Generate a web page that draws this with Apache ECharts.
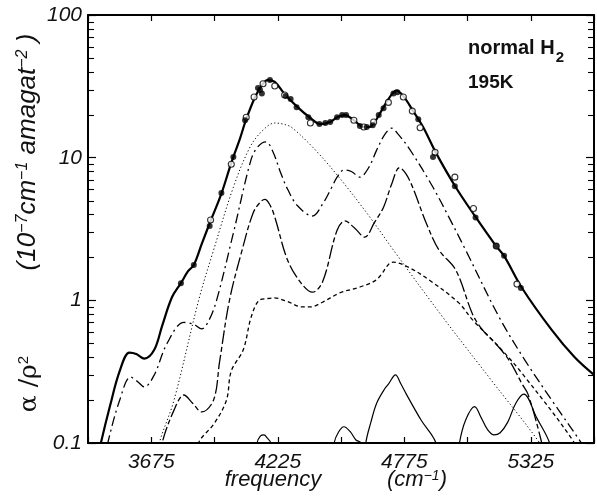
<!DOCTYPE html>
<html>
<head>
<meta charset="utf-8">
<script src="https://cdn.jsdelivr.net/npm/echarts@6/dist/echarts.min.js"></script>
<style>
  html, body { margin: 0; padding: 0; background: #fff; }
  #chart { width: 597px; height: 499px; }
</style>
</head>
<body>
<div id="chart"></div>
<script>
// frequency (cm^-1) / alpha over rho^2
const xMin = 3400, xMax = 5600, xStep = 275;
const labelledTicks = [3675, 4225, 4775, 5325];

const totalCurve = [[3440,0.075],[3456,0.1],[3495,0.18],[3538,0.32],[3580,0.43],[3610,0.42],[3645,0.39],[3688,0.45],
  [3722,0.66],[3765,1.05],[3804,1.32],[3835,1.6],[3860,1.77],[3895,2.5],[3933,3.6],[3980,5.6],[4023,9.2],[4060,13.5],
  [4088,18.6],[4126,26.5],[4155,32],[4180,35],[4212,34],[4255,27.9],[4311,22.6],[4363,19.2],[4410,17.2],[4453,17.8],
  [4483,19.2],[4517,19.9],[4556,18.3],[4599,16.4],[4625,16.4],[4646,17.7],[4685,22.6],[4715,27],[4740,29.5],[4771,27],
  [4814,21.2],[4857,16.4],[4913,10.8],[4999,6.2],[5085,3.84],[5171,2.44],[5209,2.05],[5287,1.22],[5416,0.62],
  [5515,0.4],[5600,0.3]];

const upperDashDot = [[3470,0.07],[3486,0.1],[3538,0.2],[3585,0.29],[3615,0.27],[3645,0.247],[3688,0.3],[3744,0.5],
  [3817,0.7],[3860,0.68],[3894,0.63],[3925,0.72],[3959,1.0],[4032,2.96],[4109,9.7],[4140,12],[4174,12.9],
  [4204,11],[4238,7.8],[4268,6.0],[4311,4.6],[4376,3.9],[4419,4.7],[4460,6.2],[4483,7.3],[4513,8.2],
  [4545,8.0],[4582,7.3],[4620,8.5],[4655,11.3],[4690,14.5],[4720,16.1],[4750,14.5],[4801,11.3],[4900,6.2],[4970,3.8],
  [5042,2.25],[5188,0.76],[5300,0.38],[5416,0.2],[5545,0.1],[5580,0.08]];

const lowerLongDash = [[3710,0.07],[3722,0.1],[3774,0.17],[3817,0.217],[3855,0.19],[3894,0.165],[3946,0.2],[3972,0.37],
  [4015,1.0],[4070,2.25],[4118,4.1],[4150,4.9],[4169,5.1],[4190,4.7],[4212,3.84],[4268,1.91],[4330,1.3],[4376,1.14],
  [4420,1.35],[4483,3.1],[4517,3.6],[4560,3.2],[4603,2.77],[4645,3.5],[4685,4.5],[4720,6.5],[4754,8.5],[4797,7.0],
  [4870,3.5],[4926,2.25],[4999,1.63],[5072,0.8],[5115,0.62],[5171,0.5],[5231,0.38],[5287,0.26],[5313,0.22],
  [5373,0.1],[5390,0.07]];

const dottedCurve = [[3695,0.07],[3710,0.1],[3774,0.2],[3881,1.0],[3946,2.25],[4032,6.2],[4105,11.9],[4161,15.6],
  [4212,17.5],[4260,17],[4290,16.1],[4389,11.3],[4500,7.0],[4625,3.84],[4728,2.25],[4943,0.76],[5150,0.28],
  [5364,0.1],[5390,0.08]];

const shortDashCurve = [[3865,0.07],[3880,0.1],[3950,0.138],[4002,0.2],[4023,0.32],[4075,0.45],[4109,0.76],[4144,1.0],
  [4182,1.03],[4210,1.04],[4268,0.98],[4330,0.9],[4367,0.9],[4420,0.97],[4496,1.13],[4582,1.24],[4655,1.4],
  [4711,1.82],[4728,1.85],[4792,1.71],[4883,1.39],[5012,0.96],[5072,0.73],[5188,0.47],[5300,0.29],[5515,0.1],
  [5540,0.075]];

const thinSolid = [[4120,0.06],[4135,0.1],[4150,0.112],[4165,0.114],[4180,0.108],[4195,0.1],[4210,0.06],
  [4455,0.06],[4470,0.1],[4490,0.12],[4513,0.13],[4540,0.12],[4565,0.105],[4586,0.1],[4596,0.06],
  [4600,0.06],[4608,0.1],[4630,0.14],[4655,0.19],[4690,0.24],[4707,0.26],[4737,0.3],[4760,0.26],[4784,0.22],
  [4848,0.145],[4913,0.1],[4930,0.06],
  [5000,0.06],[5015,0.1],[5042,0.145],[5081,0.18],[5110,0.15],[5136,0.125],[5165,0.114],[5192,0.118],[5225,0.14],
  [5260,0.19],[5295,0.22],[5351,0.15],[5407,0.1],[5420,0.07]];

const openPoints = [[3933,3.66],[4023,9.0],[4088,19.2],[4122,26.6],[4161,33],[4212,31.8],[4255,27.5],[4367,17.5],
  [4556,18.3],[4599,16.4],[4642,17.8],[4706,24.4],[4771,26.6],[4810,21.2],[4844,16.2],[4909,10.9],[4995,7.3],
  [5076,4.4],[5175,2.4],[5265,1.3]];

const filledPoints = [[3804,1.32],[3860,1.77],[3929,3.32],[3980,5.65],[4032,10.1],[4083,18.3],[4139,30.8],[4148,29.8],
  [4156,28.2],[4191,35],[4260,27.1],[4281,25.8],[4307,22.6],[4358,19.2],[4406,17.2],[4432,17.5],[4453,17.8],
  [4483,19.2],[4505,19.9],[4522,19.9],[4582,16.7],[4612,16.4],[4638,16.9],[4664,19.9],[4685,22.2],[4728,28.2],
  [4745,28.8],[4836,18.6],[4900,10.1],[4995,6.3],[5085,3.8],[5175,2.4],[5209,2.05],[5282,1.22]];

const logMinor = [2, 3, 4, 5, 6, 7, 8, 9];
const decades = [0.1, 1, 10];

const font = "'Liberation Sans', Arial, sans-serif";
let myChart = echarts.init(document.getElementById("chart"));

function lineSeries(data, width, type) {
  return {
    type: "line",
    data: data,
    showSymbol: false,
    smooth: 0.35,
    clip: true,
    silent: true,
    lineStyle: { color: "#000", width: width, type: type },
    z: 3
  };
}

const xAxisBase = {
  type: "value",
  min: xMin,
  max: xMax,
  interval: xStep,
  splitLine: { show: false },
  axisLine: { lineStyle: { color: "#000", width: 2 } },
  axisTick: { inside: true, length: 6, lineStyle: { color: "#000", width: 1.2 } }
};
const yAxisBase = {
  type: "log",
  logBase: 10,
  min: 0.1,
  max: 100,
  splitLine: { show: false },
  axisLine: { lineStyle: { color: "#000", width: 2 } },
  axisTick: { inside: true, length: 8, lineStyle: { color: "#000", width: 1.2 } }
};

const option = {
  animation: false,
  grid: { left: 88, right: -3, top: 15, bottom: 56 },
  xAxis: [
    Object.assign({}, xAxisBase, {
      position: "bottom",
      axisLabel: {
        margin: 9,
        fontFamily: font, fontStyle: "italic", fontSize: 21, color: "#111",
        formatter: v => labelledTicks.includes(v) ? String(v) : ""
      }
    }),
    Object.assign({}, xAxisBase, { position: "top", axisLabel: { show: false } })
  ],
  yAxis: [
    Object.assign({}, yAxisBase, {
      position: "left",
      axisLabel: { margin: 6, fontFamily: font, fontStyle: "italic", fontSize: 21, color: "#111" }
    }),
    Object.assign({}, yAxisBase, { position: "right", axisLabel: { show: false } })
  ],
  series: [
    lineSeries(totalCurve, 2.2, "solid"),
    lineSeries(upperDashDot, 1.3, [10, 4, 2, 4]),
    lineSeries(lowerLongDash, 1.3, [14, 3, 5, 3]),
    lineSeries(dottedCurve, 1, [1.2, 2.4]),
    lineSeries(shortDashCurve, 1.3, [4, 3]),
    lineSeries(thinSolid, 1.2, "solid"),
    {
      type: "scatter", data: openPoints, symbol: "circle", symbolSize: 6, silent: true, z: 5,
      itemStyle: { color: "#fff", borderColor: "#000", borderWidth: 1.1 }
    },
    {
      type: "scatter", data: filledPoints, symbol: "circle", symbolSize: 6, silent: true, z: 6,
      itemStyle: { color: "#000" }
    }
  ]
};
myChart.setOption(option);

// minor log ticks (2..9 in each decade) on both vertical axes, and the text
const leftX = myChart.convertToPixel({ xAxisIndex: 0 }, xMin);
const rightX = myChart.convertToPixel({ xAxisIndex: 0 }, xMax);
const ticks = [];
decades.forEach(d => {
  logMinor.forEach(m => {
    const y = Math.round(myChart.convertToPixel({ yAxisIndex: 0 }, m * d)) + 0.5;
    ticks.push({ type: "line", silent: true, shape: { x1: leftX, y1: y, x2: leftX + 6, y2: y },
      style: { stroke: "#000", lineWidth: 1.1 } });
    ticks.push({ type: "line", silent: true, shape: { x1: rightX, y1: y, x2: rightX - 6, y2: y },
      style: { stroke: "#000", lineWidth: 1.1 } });
  });
});

const texts = [
  {
    type: "text", x: 468, y: 48, silent: true,
    style: {
      text: "{b|normal H}{s|2}",
      rich: {
        b: { fontFamily: font, fontWeight: "bold", fontSize: 20, fill: "#111" },
        s: { fontFamily: font, fontWeight: "bold", fontSize: 15, fill: "#111", verticalAlign: "bottom", padding: [0, 0, -7, 1] }
      },
      verticalAlign: "middle"
    }
  },
  {
    type: "text", x: 468, y: 83, silent: true,
    style: { text: "195K", fontFamily: font, fontWeight: "bold", fontSize: 19, fill: "#111", verticalAlign: "middle" }
  },
  {
    type: "text", x: 273, y: 480, silent: true,
    style: { text: "frequency", fontFamily: font, fontStyle: "italic", fontSize: 22, fill: "#111",
      align: "center", verticalAlign: "middle" }
  },
  {
    type: "text", x: 417, y: 480, silent: true,
    style: {
      text: "{a|(cm}{s|−1}{a|)}",
      rich: {
        a: { fontFamily: font, fontStyle: "italic", fontSize: 22, fill: "#111" },
        s: { fontFamily: font, fontStyle: "italic", fontSize: 14, fill: "#111", verticalAlign: "top" }
      },
      align: "center", verticalAlign: "middle"
    }
  },
  {
    type: "text", x: 28, y: 152, rotation: Math.PI / 2, silent: true,
    style: {
      text: "{a|(10}{s|−7}{a|cm}{s|−1}{a| amagat}{s|−2}{a| )}",
      rich: {
        a: { fontFamily: font, fontStyle: "italic", fontSize: 26, fill: "#111" },
        s: { fontFamily: font, fontStyle: "italic", fontSize: 16, fill: "#111", verticalAlign: "top" }
      },
      align: "center", verticalAlign: "middle"
    }
  },
  {
    type: "text", x: 29, y: 384, rotation: Math.PI / 2, silent: true,
    style: {
      text: "{a|α /ρ}{s|2}",
      rich: {
        a: { fontFamily: "'DejaVu Serif', serif", fontSize: 25, fill: "#111" },
        s: { fontFamily: font, fontSize: 15, fill: "#111", verticalAlign: "top" }
      },
      align: "center", verticalAlign: "middle"
    }
  }
];

myChart.setOption({ graphic: ticks.concat(texts) });
</script>
</body>
</html>
